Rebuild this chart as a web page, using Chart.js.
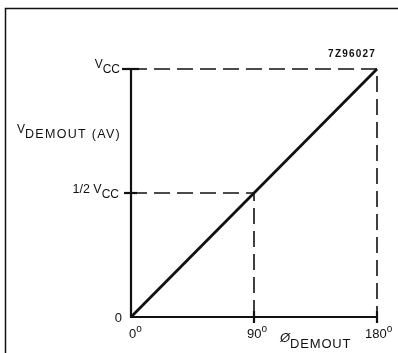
<!DOCTYPE html>
<html>
<head>
<meta charset="utf-8">
<script src="https://cdn.jsdelivr.net/npm/chart.js@4.4.1/dist/chart.umd.min.js"></script>
<style>
  html, body { margin: 0; padding: 0; background: #fff; }
  #wrap { position: relative; width: 398px; height: 353px; }
</style>
</head>
<body>
<div id="wrap"><canvas id="c" width="398" height="353"></canvas></div>
<script>
// Phase axis (degrees) and output level (fraction of VCC)
const phaseTicks = [0, 90, 180];
const phaseTickLabels = ['0', '90', '180'];
const levelTicks = [0, 0.5, 1];
const levelTickLabels = ['0', '1/2 V', 'V'];
// Transfer characteristic: average demodulator output vs phase
const transferPhase = [0, 180];
const transferLevel = [0, 1];
// Guide lines: VCC level and 1/2 VCC at 90 degrees
const guideVccPhase = [0, 180, 180];
const guideVccLevel = [1, 1, 0];
const guideHalfPhase = [0, 90, 90];
const guideHalfLevel = [0.5, 0.5, 0];

const INK = '#111';
const FONT = '"Liberation Sans", Arial, sans-serif';

const pts = (xs, ys) => xs.map((x, i) => ({ x, y: ys[i] }));

// Draws a label made of runs with baseline offsets (sub/superscripts)
function drawRuns(ctx, x, y, runs, align) {
  const setFont = r => {
    ctx.font = (r.w || 'normal') + ' ' + r.size + 'px ' + FONT;
    ctx.letterSpacing = (r.ls || 0) + 'px';
  };
  let total = 0;
  runs.forEach(r => { setFont(r); total += ctx.measureText(r.t).width + (r.gap || 0); });
  let cx = align === 'right' ? x - total : (align === 'center' ? x - total / 2 : x);
  runs.forEach(r => {
    setFont(r);
    ctx.fillText(r.t, cx, y + (r.dy || 0));
    cx += ctx.measureText(r.t).width + (r.gap || 0);
  });
  ctx.letterSpacing = '0px';
}

const annotate = {
  id: 'annotate',
  beforeDraw(chart) {
    const ctx = chart.ctx;
    ctx.save();
    ctx.fillStyle = '#fff';
    ctx.fillRect(0, 0, chart.width, chart.height);
    // outer frame (left and top edges)
    ctx.strokeStyle = INK;
    ctx.lineWidth = 1.5;
    ctx.beginPath();
    ctx.moveTo(5.5, 353);
    ctx.lineTo(5.5, 8.5);
    ctx.lineTo(398, 8.5);
    ctx.stroke();
    ctx.restore();
  },
  afterDraw(chart) {
    const ctx = chart.ctx;
    const xs = chart.scales.x, ys = chart.scales.y;
    const x0 = xs.getPixelForValue(0), y0 = ys.getPixelForValue(0);
    ctx.save();
    ctx.strokeStyle = INK;
    ctx.lineWidth = 2.2;
    // axes
    ctx.beginPath();
    ctx.moveTo(x0, ys.getPixelForValue(1));
    ctx.lineTo(x0, y0);
    ctx.lineTo(xs.getPixelForValue(180), y0);
    ctx.stroke();
    // level ticks
    levelTicks.forEach(v => {
      if (v === 0) return;
      const py = ys.getPixelForValue(v);
      ctx.beginPath();
      ctx.moveTo(x0 - (v === 1 ? 9 : 7), py);
      ctx.lineTo(x0 + (v === 1 ? 8 : 6), py);
      ctx.stroke();
    });
    // phase ticks
    phaseTicks.forEach(v => {
      if (v === 0) return;
      const px = xs.getPixelForValue(v);
      ctx.beginPath();
      ctx.moveTo(px, y0 - 6);
      ctx.lineTo(px, y0 + 6);
      ctx.stroke();
    });

    ctx.fillStyle = INK;
    ctx.textBaseline = 'alphabetic';
    ctx.textAlign = 'left';
    // level labels
    const yV = ys.getPixelForValue(1), yH = ys.getPixelForValue(0.5);
    drawRuns(ctx, x0 - 11, yV + 3, [{ t: levelTickLabels[2], size: 12, dy: -4 }, { t: 'CC', size: 12, dy: 1 }], 'right');
    drawRuns(ctx, x0 - 12, yH + 3, [{ t: levelTickLabels[1], size: 12.5, dy: -3 }, { t: 'CC', size: 12, dy: 2 }], 'right');
    drawRuns(ctx, x0 - 9, y0 + 5, [{ t: levelTickLabels[0], size: 13 }], 'right');
    // axis title for level
    drawRuns(ctx, 17, 136, [{ t: 'V', size: 12, dy: -3 }, { t: 'DEMOUT (AV)', size: 12.5, dy: 2, ls: 1.3 }], 'left');
    // phase labels
    const offs = [-2, -7, -12];
    phaseTicks.forEach((v, i) => {
      const px = xs.getPixelForValue(v);
      drawRuns(ctx, px + offs[i], y0 + 21, [{ t: phaseTickLabels[i], size: 13 }, { t: 'o', size: 10, dy: -6, gap: 0 }], 'left');
    });
    // phase axis title
    drawRuns(ctx, 280, y0 + 25, [{ t: '\u00D8', size: 13, w: 'italic' }, { t: 'DEMOUT', size: 13, dy: 6, ls: 0.8 }], 'left');
    // figure code
    drawRuns(ctx, 376, 57, [{ t: '7Z96027', size: 10, w: 'bold', ls: 1.2 }], 'right');
    ctx.restore();
  }
};

new Chart(document.getElementById('c'), {
  type: 'scatter',
  data: {
    datasets: [
      {
        data: pts(guideVccPhase, guideVccLevel),
        showLine: true, borderColor: INK, borderWidth: 1.6, borderDash: [16, 7],
        pointRadius: 0, fill: false, clip: false
      },
      {
        data: pts(guideHalfPhase, guideHalfLevel),
        showLine: true, borderColor: INK, borderWidth: 1.6, borderDash: [16, 7],
        pointRadius: 0, fill: false, clip: false
      },
      {
        data: pts(transferPhase, transferLevel),
        showLine: true, borderColor: INK, borderWidth: 2.8,
        pointRadius: 0, fill: false, clip: false
      }
    ]
  },
  options: {
    responsive: false,
    animation: false,
    devicePixelRatio: 1,
    layout: { padding: { left: 131, right: 21, top: 69, bottom: 36 } },
    plugins: { legend: { display: false }, tooltip: { enabled: false } },
    scales: {
      x: { type: 'linear', min: 0, max: 180, display: false },
      y: { type: 'linear', min: 0, max: 1, display: false }
    }
  },
  plugins: [annotate]
});
</script>
</body>
</html>
